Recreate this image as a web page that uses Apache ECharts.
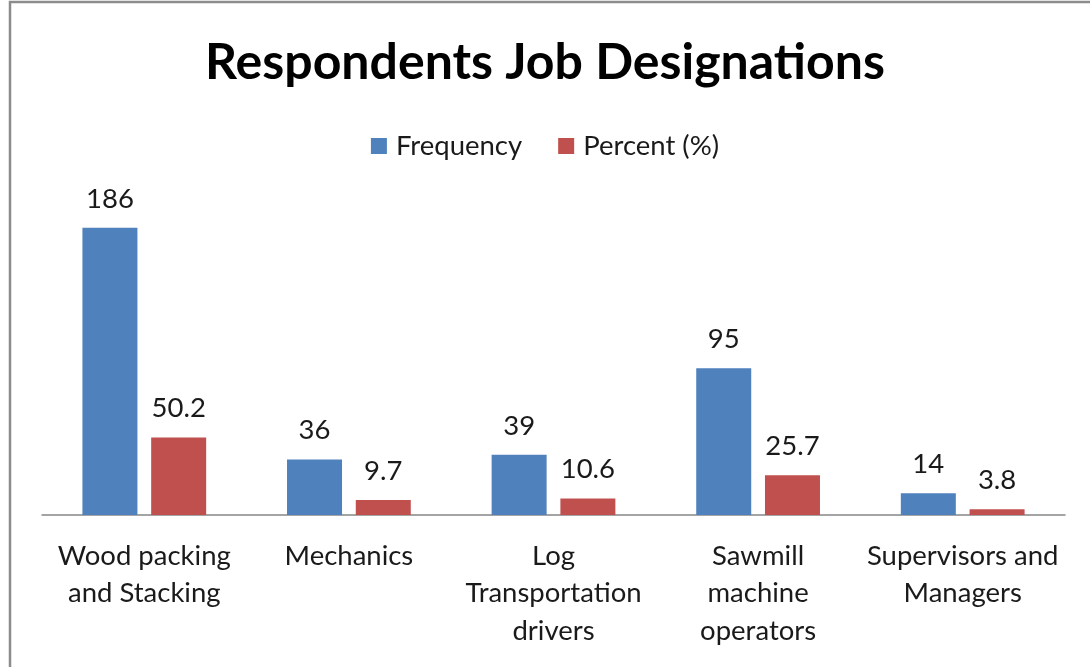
<!DOCTYPE html>
<html>
<head>
<meta charset="utf-8">
<script src="https://cdn.jsdelivr.net/npm/echarts@6/dist/echarts.min.js"></script>
<style>
  html, body { margin: 0; padding: 0; background: #fff; }
  #main { width: 1090px; height: 667px; }
</style>
</head>
<body>
<div id="main"></div>
<script>
// job categories and values
var categories = [
    'Wood packing\nand Stacking',
    'Mechanics',
    'Log\nTransportation\ndrivers',
    'Sawmill\nmachine\noperators',
    'Supervisors and\nManagers'
];
var frequency = [186, 36, 39, 95, 14];
var percent = [50.2, 9.7, 10.6, 25.7, 3.8];

var chart = echarts.init(document.getElementById('main'));

var labelStyle = {
    show: true,
    position: 'top',
    distance: 15,
    fontFamily: 'Lato',
    fontSize: 27.5,
    color: '#1a1a1a'
};

var option = {
    backgroundColor: '#fff',
    animation: false,
    title: {
        text: 'Respondents Job Designations',
        left: 'center',
        top: 33,
        textStyle: {
            fontFamily: 'Lato',
            fontWeight: 'bold',
            fontSize: 50,
            color: '#000'
        }
    },
    legend: {
        top: 127,
        left: 'center',
        itemWidth: 16,
        itemHeight: 16,
        itemGap: 36,
        icon: 'rect',
        textStyle: {
            fontFamily: 'Lato',
            fontSize: 27.5,
            color: '#1a1a1a',
            padding: [0, 0, 0, 4]
        },
        data: ['Frequency', 'Percent (%)']
    },
    grid: {
        left: 42,
        right: 25,
        top: 206,
        bottom: 152
    },
    xAxis: {
        type: 'category',
        data: categories,
        axisLine: { lineStyle: { color: '#868686', width: 1.5 } },
        axisTick: { show: false },
        axisLabel: {
            fontFamily: 'Lato',
            fontSize: 27.5,
            color: '#1a1a1a',
            lineHeight: 37.5,
            margin: 22,
            interval: 0
        }
    },
    yAxis: {
        type: 'value',
        min: 0,
        max: 200,
        show: false,
        splitLine: { show: false }
    },
    series: [
        {
            name: 'Frequency',
            type: 'bar',
            data: frequency,
            barWidth: 55,
            barGap: '25%',
            itemStyle: { color: '#4F81BD' },
            label: labelStyle
        },
        {
            name: 'Percent (%)',
            type: 'bar',
            data: percent,
            barWidth: 55,
            itemStyle: { color: '#C0504D' },
            label: labelStyle
        }
    ],
    graphic: [{
        type: 'polyline',
        shape: { points: [[10, 700], [10, 2], [1100, 2]] },
        style: { stroke: '#8c8c8c', lineWidth: 2.5, fill: null }
    }]
};

chart.setOption(option);
</script>
</body>
</html>
